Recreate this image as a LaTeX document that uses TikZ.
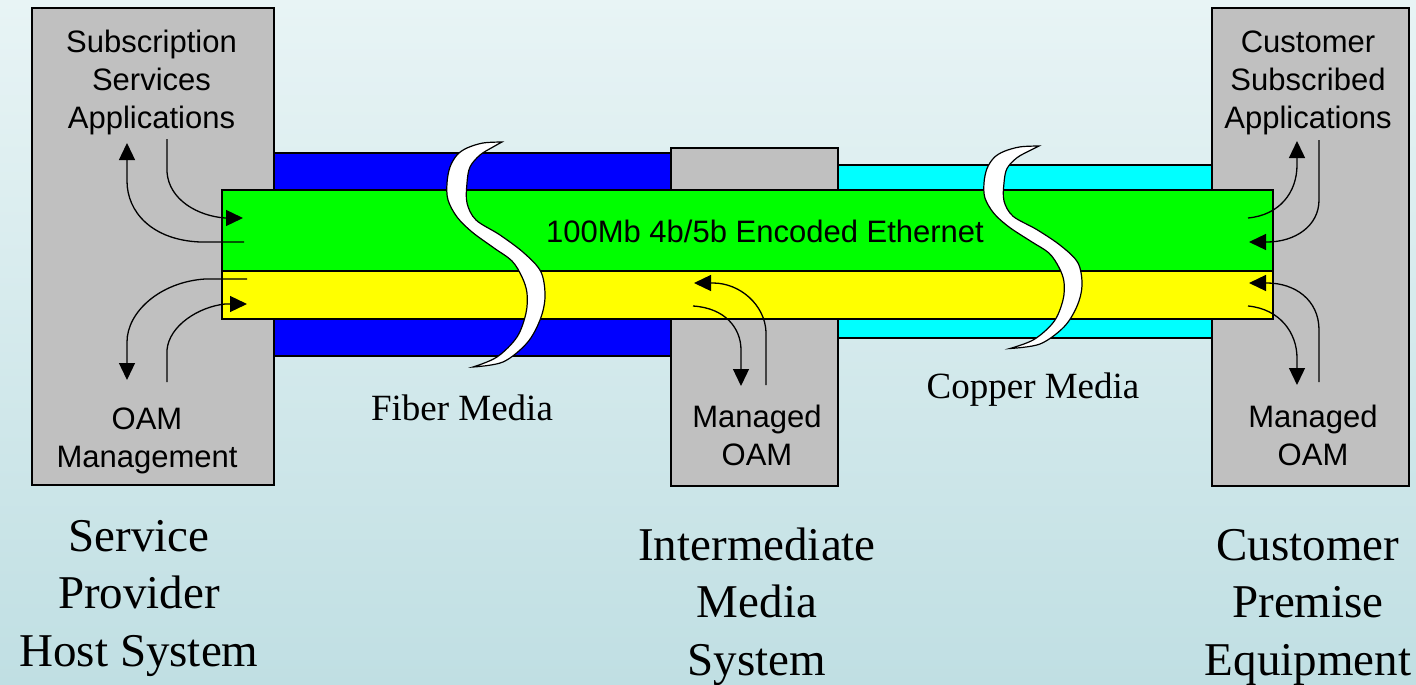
\documentclass[tikz,border=0pt]{standalone}
\usepackage{fontspec}
\setmainfont{Liberation Serif}
\newfontfamily\arialfont{Liberation Sans}
\usetikzlibrary{arrows.meta}
\definecolor{bgtop}{HTML}{E8F4F5}
\definecolor{bgbot}{HTML}{C0DFE3}
\definecolor{boxgray}{HTML}{C0C0C0}
\definecolor{bandblue}{HTML}{0000FF}
\definecolor{bandcyan}{HTML}{00FFFF}
\definecolor{bandgreen}{HTML}{00FF00}
\definecolor{bandyellow}{HTML}{FFFF00}
\newcommand\breakshape{%
  \filldraw[fill=white, draw=black, line width=1.2pt]
    plot[smooth, tension=0.55] coordinates {(0,0) (-19,1) (-35,6) (-45,13) (-52,25) (-55,41) (-54,58) (-45,75) (-30,90) (-8,106) (10,119) (20,135) (25,151) (24,171) (15,195) (-5,215) (-29,225)}
    -- plot[smooth, tension=0.55] coordinates {(-29,225) (1,220) (25,201) (38,178) (43,155) (39,130) (22,111) (-2,93) (-26,78) (-35,61) (-35,41) (-32,25) (-22,13) (-9,5) (0,0)}
    -- cycle;}
\begin{document}
\begin{tikzpicture}[x=1pt, y=-1pt,
  box/.style={draw=black, fill=boxgray, line width=1.5pt, inner sep=0pt, minimum width=#1},
  band/.style={draw=black, line width=1.5pt},
  lbl/.style={font=\arialfont\fontsize{31}{38}\selectfont, align=center, inner sep=0pt, anchor=base},
  biglbl/.style={font=\fontsize{47}{57.5}\selectfont, align=center, inner sep=0pt, anchor=base},
  medlbl/.style={font=\fontsize{37}{44}\selectfont, inner sep=0pt, anchor=base},
  arr/.style={line width=1.3pt, -{Triangle[length=17pt,width=16pt]}}
]
\useasboundingbox (0,0) rectangle (1416,685);
\shade[top color=bgtop, bottom color=bgbot] (0,0) rectangle (1416,685);

% media bands
\filldraw[band, fill=bandblue] (274,153) rectangle (671,356);
\filldraw[band, fill=bandcyan] (838,165) rectangle (1212,338);

% system boxes
\node[box=242pt, minimum height=477pt] (host) at (153,246.5) {};
\node[box=167pt, minimum height=338pt] (mid) at (754.5,317) {};
\node[box=197pt, minimum height=478pt] (cpe) at (1310.5,247) {};

% ethernet layers
\filldraw[band, fill=bandgreen] (222,190) rectangle (1273,271);
\filldraw[band, fill=bandyellow] (222,271) rectangle (1273,319);

% break marks
\begin{scope}[shift={(502,142)}]\breakshape\end{scope}
\begin{scope}[shift={(1039,146)}, yscale=0.9]\breakshape\end{scope}

% arrow end points
\coordinate (a1s) at (244,242); \coordinate (a1e) at (127,143);
\coordinate (a2s) at (167,139); \coordinate (a2e) at (243,218);
\coordinate (a3s) at (247,279); \coordinate (a3e) at (127,380);
\coordinate (a4s) at (167,382); \coordinate (a4e) at (247,304);
\coordinate (m1s) at (766,385); \coordinate (m1e) at (694,283);
\coordinate (m2s) at (693,306); \coordinate (m2e) at (741,386);
\coordinate (r1s) at (1248,218); \coordinate (r1e) at (1297,141);
\coordinate (r2s) at (1319,140); \coordinate (r2e) at (1249,242);
\coordinate (r3s) at (1319,382); \coordinate (r3e) at (1249,283);
\coordinate (r4s) at (1248,306); \coordinate (r4e) at (1297,385);

% arrows, host
\draw[arr] (a1s) -- (200,242) .. controls (152,240) and (127,212) .. (127,181) -- (a1e);
\draw[arr] (a2s) -- (167,172) .. controls (169,200) and (198,216) .. (225,218) -- (a2e);
\draw[arr] (a3s) -- (205,279) .. controls (160,282) and (127,312) .. (127,342) -- (a3e);
\draw[arr] (a4s) -- (167,350) .. controls (169,326) and (198,307) .. (225,304) -- (a4e);
% arrows, intermediate
\draw[arr] (m1s) -- (766,332) .. controls (765,305) and (740,283) .. (713,283) -- (m1e);
\draw[arr] (m2s) .. controls (725,308) and (741,328) .. (741,350) -- (m2e);
% arrows, customer
\draw[arr] (r1s) .. controls (1280,215) and (1297,192) .. (1297,165) -- (r1e);
\draw[arr] (r2s) -- (1319,200) .. controls (1319,226) and (1295,242) .. (1267,242) -- (r2e);
\draw[arr] (r3s) -- (1319,330) .. controls (1319,300) and (1295,283) .. (1267,283) -- (r3e);
\draw[arr] (r4s) .. controls (1280,309) and (1297,333) .. (1297,358) -- (r4e);

% labels (base anchor = baseline of last line)
\node[lbl] (subs) at (151.5,128) {Subscription\\Services\\Applications};
\node[lbl] (oamm) at (147,467) {OAM\\Management};
\node[lbl] (mgd1) at (757,465) {Managed\\OAM};
\node[lbl] (csub) at (1308,128) {Customer\\Subscribed\\Applications};
\node[lbl] (mgd2) at (1313,465) {Managed\\OAM};
\node[lbl] (eth) at (765,242) {100Mb 4b/5b Encoded Ethernet};
\node[medlbl] (fiber) at (462,420) {Fiber Media};
\node[medlbl] (copper) at (1033,398) {Copper Media};
\node[biglbl] (sphs) at (139,666) {Service\\Provider\\Host System};
\node[biglbl] (ims) at (757,675) {Intermediate\\Media\\System};
\node[biglbl] (cpeq) at (1308,675) {Customer\\Premise\\Equipment};
\end{tikzpicture}
\end{document}
